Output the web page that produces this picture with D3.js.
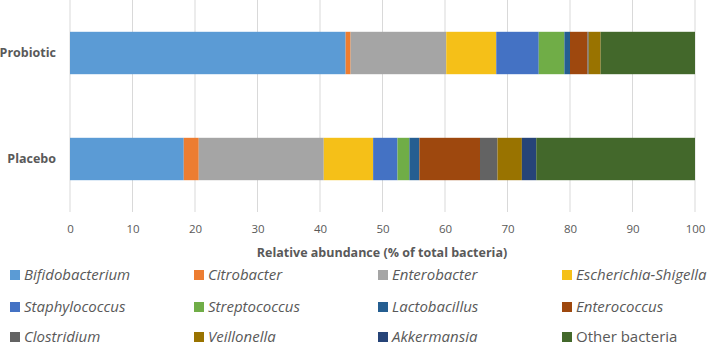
<!DOCTYPE html>
<html lang="en">
<head>
    <meta charset="UTF-8">
    <title>Relative abundance</title>
    <script type="text/javascript" src="https://d3js.org/d3.v7.min.js"></script>
    <style>
        body{
            margin: 0;
            background-color: white;
        }
        text{
            font-family: "Open Sans", sans-serif;
            fill: #595959;
        }
    </style>
</head>
<body>
    <script type="text/javascript">
        var width = 709;
        var height = 347;

        // groups, top to bottom
        var groups = ["Probiotic", "Placebo"];
        // genera in stacking order
        var genera = ["Bifidobacterium", "Citrobacter", "Enterobacter", "Escherichia-Shigella",
                      "Staphylococcus", "Streptococcus", "Lactobacillus", "Enterococcus",
                      "Clostridium", "Veillonella", "Akkermansia", "Other bacteria"];
        var colors = ["#5b9bd5", "#ed7d31", "#a5a5a5", "#f5c018",
                      "#4472c4", "#70ad47", "#255e91", "#9e480e",
                      "#636363", "#997300", "#264478", "#43682b"];
        // % of total bacteria, same order as genera
        var probiotic = [44.1, 0.8, 15.3, 8.0, 6.8, 4.1, 0.9, 2.8, 0.2, 1.9, 0.0, 15.1];
        var placebo   = [18.2, 2.4, 20.0, 7.9, 3.9, 1.9, 1.6, 9.7, 2.8, 3.9, 2.3, 25.4];
        var ticks = [0, 10, 20, 30, 40, 50, 60, 70, 80, 90, 100];

        var rows = [probiotic, placebo].map(function(vals, i){
            var r = {group: groups[i]};
            genera.forEach(function(g, j){ r[g] = vals[j]; });
            return r;
        });

        var svg = d3.select("body").append("svg")
                .attr("width", width)
                .attr("height", height);

        var x = d3.scaleLinear().domain([0, 100]).range([70, 695]);
        var y = d3.scaleBand().domain(groups).range([0, 212])
                .paddingInner(0.6).paddingOuter(0.3);

        // gridlines
        svg.append("g").selectAll("line")
            .data(ticks)
            .enter().append("line")
            .attr("x1", d => x(d)).attr("x2", d => x(d))
            .attr("y1", 0).attr("y2", 212)
            .attr("stroke", "#d9d9d9")
            .attr("stroke-width", 1);

        // stacked bars
        var stack = d3.stack().keys(genera)(rows);
        svg.append("g").selectAll("g")
            .data(stack)
            .enter().append("g")
            .attr("fill", (d, i) => colors[i])
            .selectAll("rect")
            .data(d => d)
            .enter().append("rect")
            .attr("x", d => x(d[0]))
            .attr("width", d => x(d[1]) - x(d[0]))
            .attr("y", d => y(d.data.group))
            .attr("height", y.bandwidth());

        // x axis labels
        var xAxis = svg.append("g")
            .attr("transform", "translate(0,212)")
            .call(d3.axisBottom(x).tickValues(ticks).tickSize(0).tickPadding(13));
        xAxis.select(".domain").remove();
        xAxis.selectAll("text")
            .style("font-family", "'Open Sans', sans-serif")
            .style("font-size", "11.5px")
            .attr("fill", "#595959");

        // group labels
        svg.append("g").selectAll("text")
            .data(groups)
            .enter().append("text")
            .attr("x", 56)
            .attr("y", d => y(d) + y.bandwidth() / 2)
            .attr("dy", "0.35em")
            .attr("text-anchor", "end")
            .style("font-size", "12.5px")
            .style("font-weight", "bold")
            .text(d => d);

        // axis title
        svg.append("text")
            .attr("x", 382)
            .attr("y", 253)
            .attr("dy", "0.35em")
            .attr("text-anchor", "middle")
            .style("font-size", "12.5px")
            .style("font-weight", "bold")
            .text("Relative abundance (% of total bacteria)");

        // legend, 4 columns x 3 rows
        var colX = [10, 194, 378, 562];
        var rowY = [275, 307, 337];
        var legend = svg.append("g").selectAll("g")
            .data(genera)
            .enter().append("g")
            .attr("transform", (d, i) => "translate(" + colX[i % 4] + "," + rowY[Math.floor(i / 4)] + ")");
        legend.append("rect")
            .attr("x", 0).attr("y", -5)
            .attr("width", 10).attr("height", 10)
            .attr("fill", (d, i) => colors[i]);
        legend.append("text")
            .attr("x", 14)
            .attr("dy", "0.35em")
            .style("font-size", "15px")
            .style("font-style", d => d === "Other bacteria" ? "normal" : "italic")
            .text(d => d);
    </script>
</body>
</html>
